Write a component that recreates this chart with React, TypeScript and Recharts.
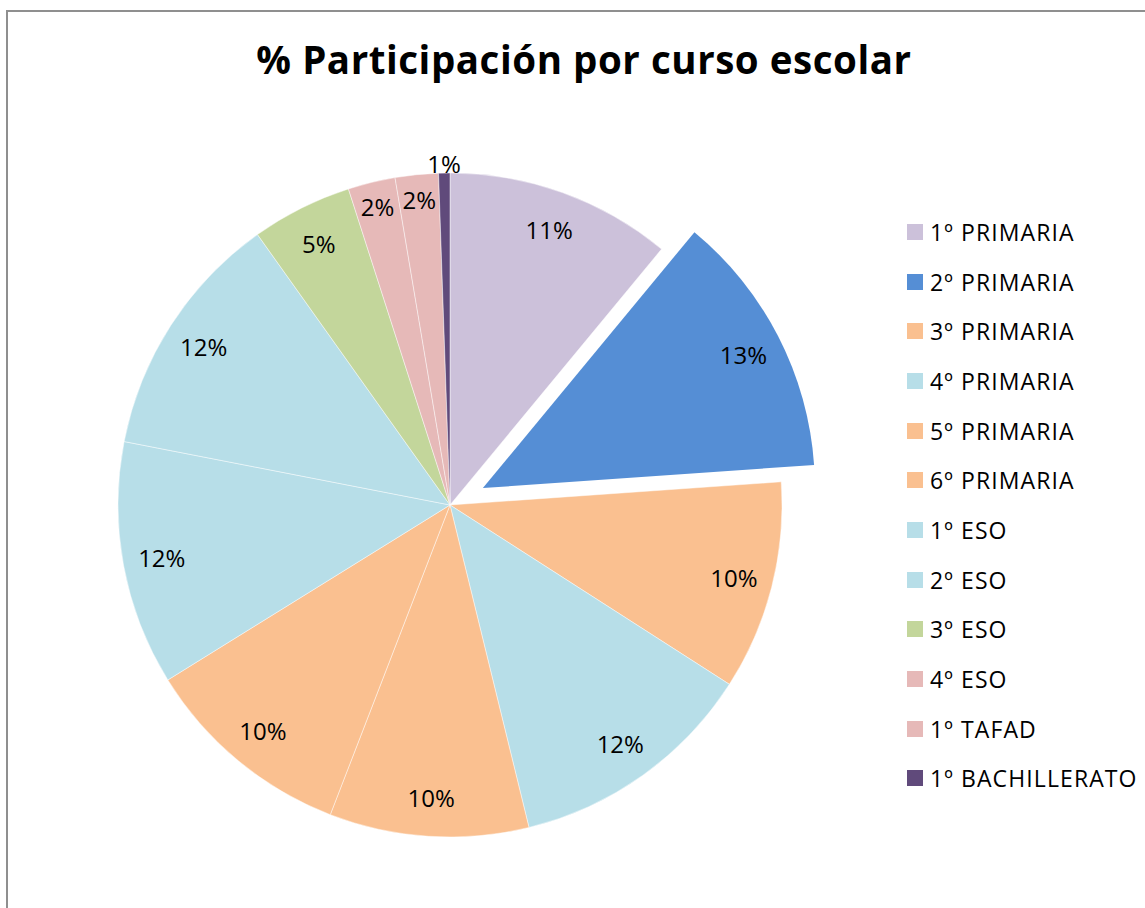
import React from 'react';
import { PieChart, Pie, Cell, Legend } from 'recharts';

const categories = [
  '1º PRIMARIA',
  '2º PRIMARIA',
  '3º PRIMARIA',
  '4º PRIMARIA',
  '5º PRIMARIA',
  '6º PRIMARIA',
  '1º ESO',
  '2º ESO',
  '3º ESO',
  '4º ESO',
  '1º TAFAD',
  '1º BACHILLERATO',
];
// estimated share (%) of each course, read from slice angles / labels
const shares = [11.0, 12.9, 10.2, 12.1, 9.7, 10.3, 11.9, 12.1, 4.9, 2.3, 2.1, 0.55];
const colors = [
  '#CCC1DA',
  '#558ED5',
  '#FAC090',
  '#B7DEE8',
  '#FAC090',
  '#FAC090',
  '#B7DEE8',
  '#B7DEE8',
  '#C3D69B',
  '#E6B9B8',
  '#E6B9B8',
  '#604A7B',
];
const explodedIndex = 1;
const title = '% Participación por curso escolar';

const FONT = '"Open Sans", Lato, sans-serif';
const CX = 450;
const CY = 505;
const R = 332;
const EXPLODE = 37;

const makeLabel = (show: (i: number) => boolean) => (props: any) => {
  const { cx, cy, midAngle, outerRadius, percent, index } = props;
  if (!show(index)) return null;
  const p = percent * 100;
  let r = outerRadius - 39;
  if (p < 1) r = outerRadius + 10;
  else if (p < 3) r = outerRadius - 25;
  const a = (-midAngle * Math.PI) / 180;
  const x = cx + r * Math.cos(a);
  const y = cy + r * Math.sin(a);
  return (
    <text
      key={`lbl-${index}`}
      x={x}
      y={y}
      textAnchor="middle"
      dominantBaseline="central"
      fill="#000"
      fontSize={24}
      fontFamily={FONT}
    >
      {Math.round(p)}%
    </text>
  );
};

export default function App() {
  const data = categories.map((name, i) => ({ name, value: shares[i] }));
  const total = shares.reduce((a, b) => a + b, 0);
  const before = shares.slice(0, explodedIndex).reduce((a, b) => a + b, 0);
  const midFrac = (before + shares[explodedIndex] / 2) / total;
  const midDeg = 90 - 360 * midFrac;
  const rad = (midDeg * Math.PI) / 180;
  const ox = EXPLODE * Math.cos(rad);
  const oy = -EXPLODE * Math.sin(rad);

  return (
    <div style={{ position: 'fixed', left: 0, top: 0, width: 1145, height: 908, overflow: 'hidden', background: '#fff' }}>
      <div
        style={{
          position: 'absolute',
          left: 6,
          top: 10,
          width: 1300,
          height: 1000,
          border: '2px solid #8f8f8f',
          boxSizing: 'border-box',
        }}
      />
      <svg style={{ position: 'absolute', left: 0, top: 0 }} width={1145} height={120}>
        <text x={584} y={74} textAnchor="middle" fontFamily={FONT} fontWeight="bold" fontSize={38.5} letterSpacing={0.55} fill="#000">
          {title}
        </text>
      </svg>
      <div style={{ position: 'absolute', left: 0, top: 0 }}>
        <PieChart width={1145} height={908} margin={{ top: 0, right: 0, bottom: 0, left: 0 }}>
          <Pie
            data={data}
            dataKey="value"
            nameKey="name"
            cx={CX}
            cy={CY}
            outerRadius={R}
            startAngle={90}
            endAngle={-270}
            isAnimationActive={false}
            labelLine={false}
            label={makeLabel((i) => i !== explodedIndex)}
            legendType="none"
          >
            {data.map((d, i) => (
              <Cell
                key={i}
                fill={i === explodedIndex ? 'none' : colors[i]}
                stroke={i === explodedIndex ? 'none' : '#ffffff'}
                strokeWidth={0.75}
                strokeOpacity={0.6}
              />
            ))}
          </Pie>
          <Pie
            data={data}
            dataKey="value"
            nameKey="name"
            cx={CX + ox}
            cy={CY + oy}
            outerRadius={R}
            startAngle={90}
            endAngle={-270}
            isAnimationActive={false}
            labelLine={false}
            label={makeLabel((i) => i === explodedIndex)}
            legendType="none"
          >
            {data.map((d, i) => (
              <Cell
                key={i}
                fill={i === explodedIndex ? colors[i] : 'none'}
                stroke="none"
              />
            ))}
          </Pie>
          <Legend
            layout="vertical"
            verticalAlign="top"
            align="right"
            wrapperStyle={{ position: 'absolute', left: 907, top: 207, width: 238 }}
            content={() => (
              <div>
                {categories.map((c, i) => (
                  <div key={i} style={{ display: 'flex', alignItems: 'center', height: 49.7 }}>
                    <span style={{ display: 'inline-block', width: 16, height: 16, background: colors[i], marginRight: 7 }} />
                    <span style={{ fontFamily: FONT, fontSize: 23, letterSpacing: 1.1, color: '#000', whiteSpace: 'nowrap' }}>{c}</span>
                  </div>
                ))}
              </div>
            )}
          />
        </PieChart>
      </div>
    </div>
  );
}
